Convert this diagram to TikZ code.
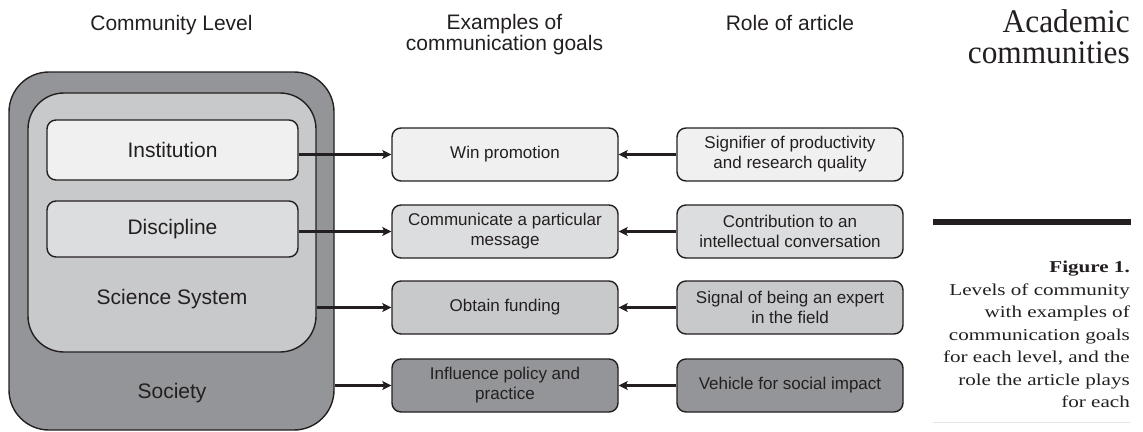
\documentclass[tikz,border=0pt]{standalone}
\usepackage{fontspec}
\setmainfont{Liberation Serif}
\setsansfont{Liberation Sans}
\newfontfamily\titlefont[FakeStretch=0.95]{Liberation Serif}
\newfontfamily\capfont[FakeStretch=1.27]{Liberation Serif}
\usetikzlibrary{arrows.meta}

\definecolor{ink}{HTML}{231F20}
\definecolor{rowA}{HTML}{F0F0F0}
\definecolor{rowB}{HTML}{DCDDDE}
\definecolor{rowC}{HTML}{C8C9CB}
\definecolor{rowD}{HTML}{949598}

\tikzset{
  frame/.style={draw=ink, line width=1.4pt, inner sep=0pt},
  level/.style={frame, rounded corners=9pt, minimum width=251pt,
    font=\sffamily\fontsize{21}{24}\selectfont, text=ink},
  lvltext/.style={font=\sffamily\fontsize{21}{24}\selectfont, text=ink, inner sep=0pt},
  cell/.style={frame, rounded corners=9pt, minimum width=226pt, minimum height=53pt,
    align=center, font=\sffamily\fontsize{17}{20}\selectfont, text=ink},
  head/.style={font=\sffamily\fontsize{21}{21}\selectfont, text=ink, align=center, inner sep=0pt},
  link/.style={draw=ink, line width=2.2pt, -{Stealth[length=9pt,width=9pt,inset=2pt]}}
}

\begin{document}
\begin{tikzpicture}[x=1pt,y=-1pt]
\useasboundingbox (0,0) rectangle (1143,431);

% column headings
\node[head, anchor=base] (h1) at (171.5,30) {Community Level};
\node[head] (h2) at (504.5,35) {Examples of\\communication goals};
\node[head, anchor=base] (h3) at (790,30) {Role of article};

% nested community levels
\node[frame, fill=rowD, rounded corners=40pt, minimum width=325pt, minimum height=358pt] (soc) at (171.5,251) {};
\node[frame, fill=rowC, rounded corners=36pt, minimum width=288pt, minimum height=259pt] (sci) at (172,222.5) {};
\node[level, fill=rowA, minimum height=60pt] (inst) at (172.5,150) {Institution};
\node[level, fill=rowB, minimum height=56pt] (disc) at (172.5,229) {Discipline};
\node[lvltext] (scilbl) at (172,299) {Science System};
\node[lvltext] (soclbl) at (172,393) {Society};

% communication goals
\node[cell, fill=rowA] (g1) at (505,154.5) {Win promotion};
\node[cell, fill=rowB] (g2) at (505,231.5) {Communicate a particular\\message};
\node[cell, fill=rowC] (g3) at (505,307.5) {Obtain funding};
\node[cell, fill=rowD] (g4) at (505,385.5) {Influence policy and\\practice};

% role of the article
\node[cell, fill=rowA] (r1) at (790,154.5) {Signifier of productivity\\and research quality};
\node[cell, fill=rowB] (r2) at (790,231.5) {Contribution to an\\intellectual conversation};
\node[cell, fill=rowC] (r3) at (790,307.5) {Signal of being an expert\\in the field};
\node[cell, fill=rowD] (r4) at (790,385.5) {Vehicle for social impact};

% level -> goal
\draw[link] (inst.east |- g1.west) -- (g1.west);
\draw[link] (disc.east |- g2.west) -- (g2.west);
\draw[link] (sci.east |- g3.west) -- (g3.west);
\draw[link] (soc.east |- g4.west) -- (g4.west);

% role -> goal
\draw[link] (r1.west) -- (g1.east);
\draw[link] (r2.west) -- (g2.east);
\draw[link] (r3.west) -- (g3.east);
\draw[link] (r4.west) -- (g4.east);

% margin title and caption
\node[anchor=north east, align=right, inner sep=0pt, text=ink,
      font=\titlefont\fontsize{33}{31}\selectfont] (title) at (1130,9.5) {Academic\\communities};
\draw[ink, line width=6pt] (933,222) -- (1131,222);
\node[anchor=north east, align=right, inner sep=0pt, text=ink,
      font=\capfont\fontsize{16.6}{22.5}\selectfont] (caption) at (1130,261)
  {\textbf{Figure 1.}\\Levels of community\\with examples of\\communication goals\\for each level, and the\\role the article plays\\for each};
\draw[black!10, line width=1pt] (933,422) -- (1130,422);
\end{tikzpicture}
\end{document}
